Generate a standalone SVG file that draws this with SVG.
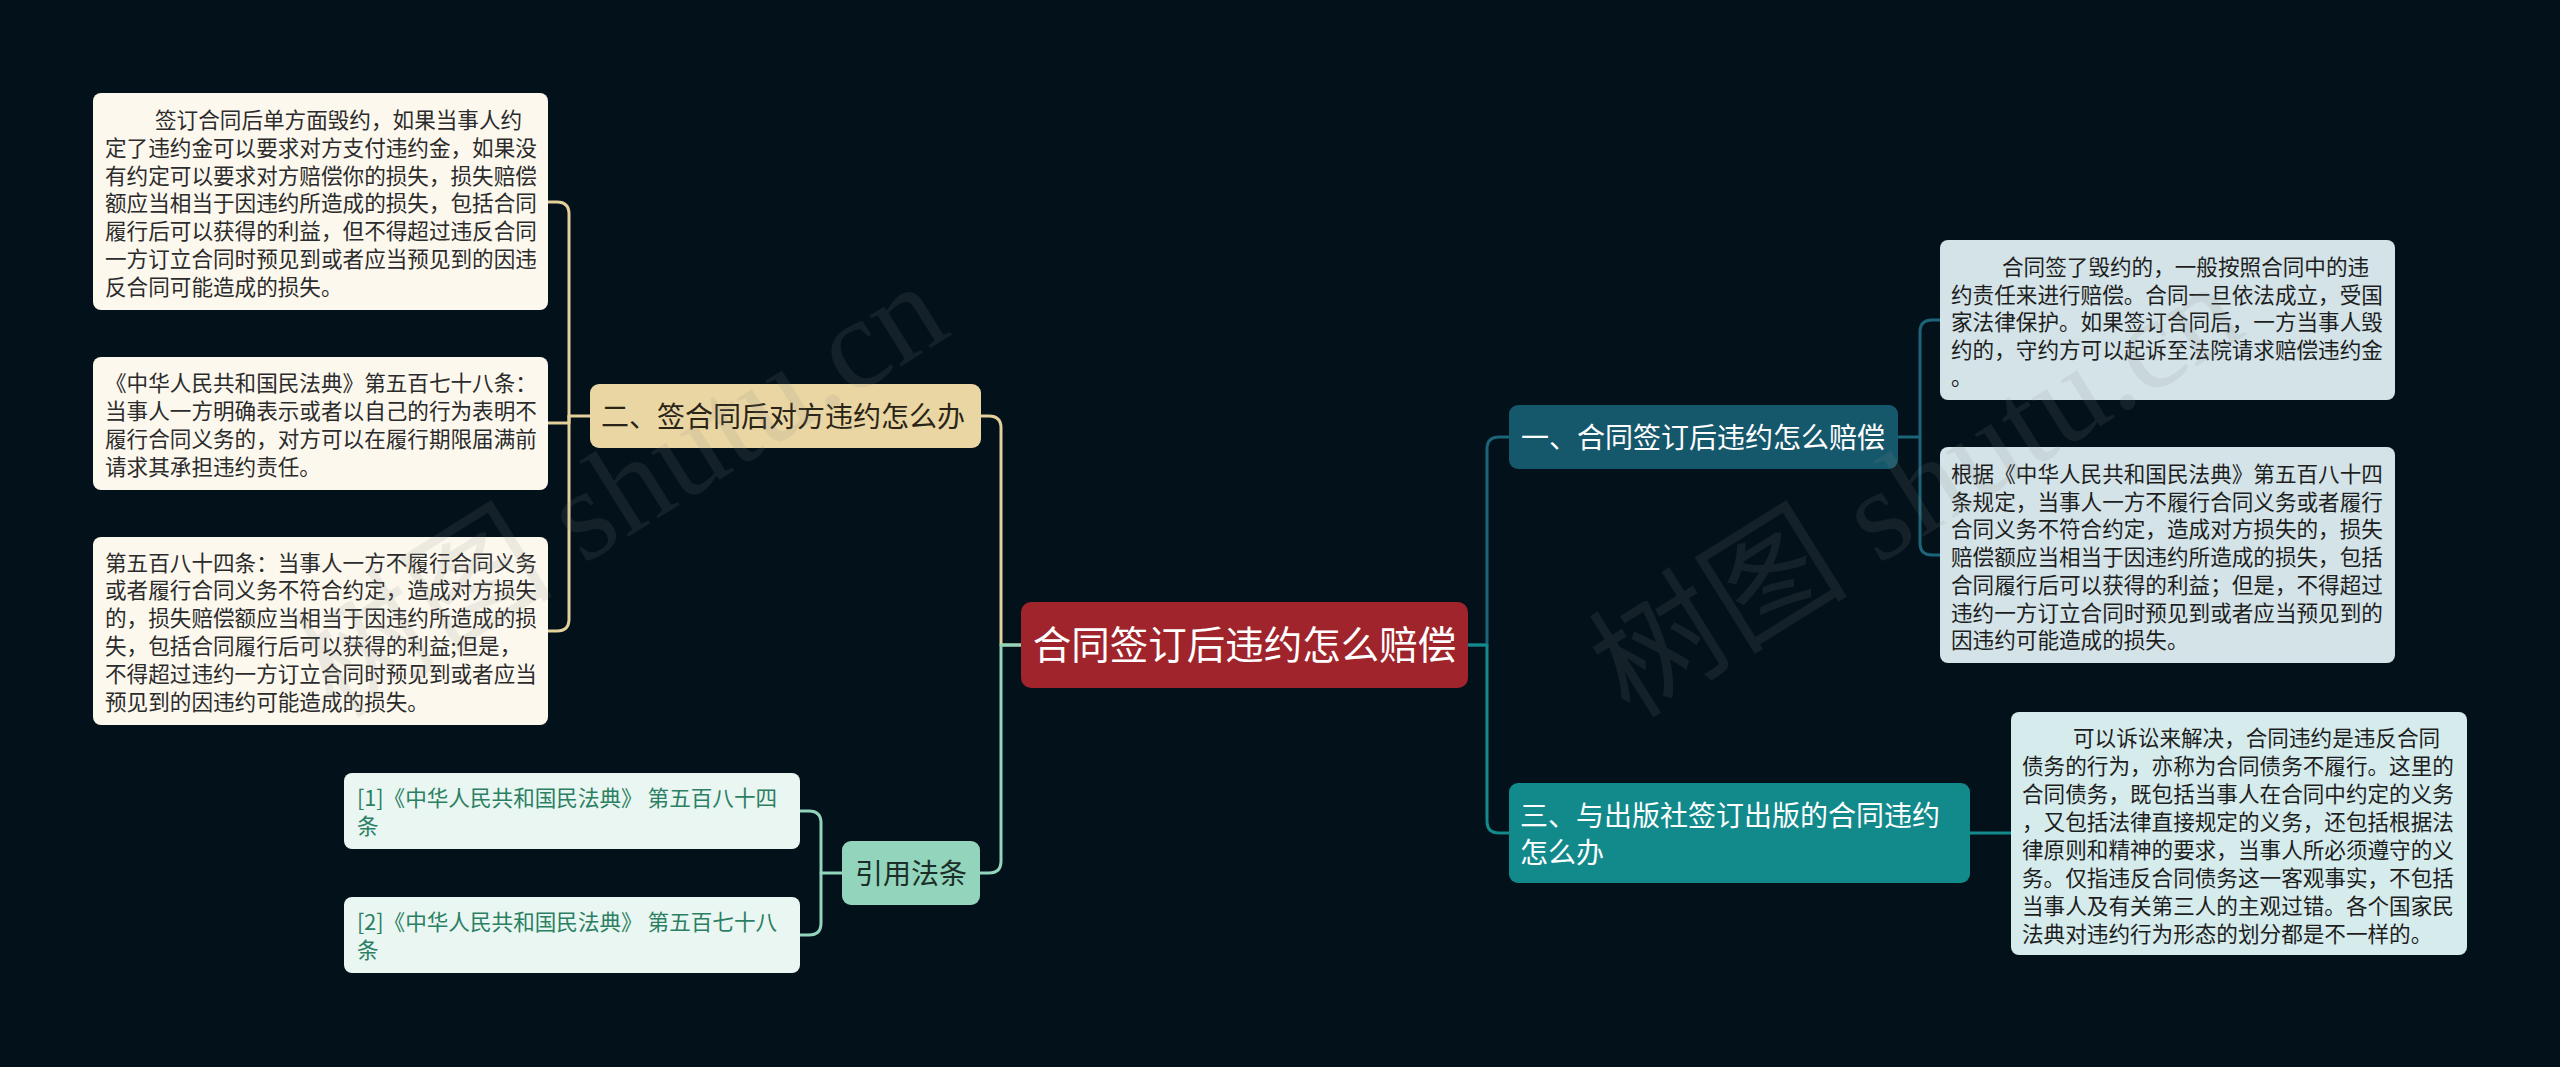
<svg xmlns="http://www.w3.org/2000/svg" width="2560" height="1067" viewBox="0 0 2560 1067">
<style>
text{font-family:"Noto Sans CJK SC","Noto Sans",sans-serif}
.s{font-size:21.6px}
.h{font-size:28px}
.leafL{fill:#fcf8ee}
.leafR{fill:#d3e3e7}
.leaf3{fill:#d5ebec}
.leafC{fill:#e9f6f1}
.dark{fill:#2b2b2b}
.cite{fill:#2b7f63}
.ln{fill:none;stroke-width:3;stroke-linecap:round;stroke-linejoin:round}
.gold{stroke:#e4d09a}
.mint{stroke:#93d4bd}
.teal1{stroke:#1c6578}
.teal3{stroke:#138b8d}
.wm{font-family:"Liberation Serif","Noto Sans CJK SC",serif;font-size:130px;fill:#8a8a8a;opacity:0.13}
</style>
<rect x="0" y="0" width="2560" height="1067" fill="#02111a"/>
<g id="connectors">
<path class="ln gold" d="M590 416 H569 V214 Q569 202 557 202 H548"/>
<path class="ln gold" d="M569 416 V423 H548"/>
<path class="ln gold" d="M569 416 V619 Q569 631 557 631 H548"/>
<path class="ln gold" d="M1021 645 H1001 V428 Q1001 416 989 416 H981"/>
<path class="ln mint" d="M1021 645 H1001 V861 Q1001 873 989 873 H980"/>
<path class="ln mint" d="M842 873 H821 V823 Q821 811 809 811 H800"/>
<path class="ln mint" d="M821 873 V923 Q821 935 809 935 H800"/>
<path class="ln teal1" d="M1468 645 H1487 V449 Q1487 437 1499 437 H1509"/>
<path class="ln teal3" d="M1468 645 H1487 V821 Q1487 833 1499 833 H1509"/>
<path class="ln teal1" d="M1898 437 H1920 V332 Q1920 320 1932 320 H1940"/>
<path class="ln teal1" d="M1920 437 V543 Q1920 555 1932 555 H1940"/>
<path class="ln teal3" d="M1970 833 H2011"/>
</g>
<g id="root">
<rect x="1021" y="602" width="447" height="86" rx="10" fill="#a0242b"/>
<text x="1244.5" y="659" text-anchor="middle" font-size="38.5" fill="#ffffff">合同签订后违约怎么赔偿</text>
</g>
<g id="n2">
<rect x="590" y="384" width="391" height="64" rx="9" fill="#e9d6a2"/>
<text class="h" x="601" y="426.5" fill="#2a2418">二、签合同后对方违约怎么办</text>
</g>
<g id="n2a">
<rect class="leafL" x="93" y="93" width="455" height="217" rx="8"/>
<text class="s dark"><tspan x="155" y="128">签订合同后单方面毁约，如果当事人约</tspan><tspan x="105" y="155.8">定了违约金可以要求对方支付违约金，如果没</tspan><tspan x="105" y="183.6">有约定可以要求对方赔偿你的损失，损失赔偿</tspan><tspan x="105" y="211.4">额应当相当于因违约所造成的损失，包括合同</tspan><tspan x="105" y="239.2">履行后可以获得的利益，但不得超过违反合同</tspan><tspan x="105" y="267">一方订立合同时预见到或者应当预见到的因违</tspan><tspan x="105" y="294.8">反合同可能造成的损失。</tspan></text>
</g>
<g id="n2b">
<rect class="leafL" x="93" y="357" width="455" height="133" rx="8"/>
<text class="s dark"><tspan x="105" y="391">《中华人民共和国民法典》第五百七十八条：</tspan><tspan x="105" y="419">当事人一方明确表示或者以自己的行为表明不</tspan><tspan x="105" y="447">履行合同义务的，对方可以在履行期限届满前</tspan><tspan x="105" y="475">请求其承担违约责任。</tspan></text>
</g>
<g id="n2c">
<rect class="leafL" x="93" y="537" width="455" height="188" rx="8"/>
<text class="s dark"><tspan x="105" y="570.5">第五百八十四条：当事人一方不履行合同义务</tspan><tspan x="105" y="598.4">或者履行合同义务不符合约定，造成对方损失</tspan><tspan x="105" y="626.3">的，损失赔偿额应当相当于因违约所造成的损</tspan><tspan x="105" y="654.2">失，包括合同履行后可以获得的利益;但是，</tspan><tspan x="105" y="682.1">不得超过违约一方订立合同时预见到或者应当</tspan><tspan x="105" y="710">预见到的因违约可能造成的损失。</tspan></text>
</g>
<g id="n4">
<rect x="842" y="841" width="138" height="64" rx="9" fill="#93d4bd"/>
<text class="h" x="911" y="883.5" text-anchor="middle" fill="#1b2e27">引用法条</text>
</g>
<g id="n4a">
<rect class="leafC" x="344" y="773" width="456" height="76" rx="8"/>
<text class="s cite"><tspan x="357" y="806">[1]《中华人民共和国民法典》 第五百八十四</tspan><tspan x="357" y="834">条</tspan></text>
</g>
<g id="n4b">
<rect class="leafC" x="344" y="897" width="456" height="76" rx="8"/>
<text class="s cite"><tspan x="357" y="930">[2]《中华人民共和国民法典》 第五百七十八</tspan><tspan x="357" y="958">条</tspan></text>
</g>
<g id="n1">
<rect x="1509" y="405" width="389" height="64" rx="9" fill="#16586b"/>
<text class="h" x="1521" y="447.5" fill="#ffffff">一、合同签订后违约怎么赔偿</text>
</g>
<g id="n1a">
<rect class="leafR" x="1940" y="240" width="455" height="160" rx="8"/>
<text class="s" fill="#1e1e1e"><tspan x="2002" y="275">合同签了毁约的，一般按照合同中的违</tspan><tspan x="1951" y="302.6">约责任来进行赔偿。合同一旦依法成立，受国</tspan><tspan x="1951" y="330.2">家法律保护。如果签订合同后，一方当事人毁</tspan><tspan x="1951" y="357.8">约的，守约方可以起诉至法院请求赔偿违约金</tspan><tspan x="1951" y="385.4">。</tspan></text>
</g>
<g id="n1b">
<rect class="leafR" x="1940" y="447" width="455" height="216" rx="8"/>
<text class="s" fill="#1e1e1e"><tspan x="1951" y="482">根据《中华人民共和国民法典》第五百八十四</tspan><tspan x="1951" y="509.7">条规定，当事人一方不履行合同义务或者履行</tspan><tspan x="1951" y="537.4">合同义务不符合约定，造成对方损失的，损失</tspan><tspan x="1951" y="565.1">赔偿额应当相当于因违约所造成的损失，包括</tspan><tspan x="1951" y="592.8">合同履行后可以获得的利益；但是，不得超过</tspan><tspan x="1951" y="620.5">违约一方订立合同时预见到或者应当预见到的</tspan><tspan x="1951" y="648.2">因违约可能造成的损失。</tspan></text>
</g>
<g id="n3">
<rect x="1509" y="783" width="461" height="100" rx="9" fill="#128a8c"/>
<text class="h" fill="#ffffff"><tspan x="1520" y="826">三、与出版社签订出版的合同违约</tspan><tspan x="1520" y="863">怎么办</tspan></text>
</g>
<g id="n3a">
<rect class="leaf3" x="2011" y="712" width="456" height="243" rx="8"/>
<text class="s" fill="#1e1e1e"><tspan x="2073" y="746">可以诉讼来解决，合同违约是违反合同</tspan><tspan x="2022" y="774">债务的行为，亦称为合同债务不履行。这里的</tspan><tspan x="2022" y="802">合同债务，既包括当事人在合同中约定的义务</tspan><tspan x="2022" y="830">，又包括法律直接规定的义务，还包括根据法</tspan><tspan x="2022" y="858">律原则和精神的要求，当事人所必须遵守的义</tspan><tspan x="2022" y="886">务。仅指违反合同债务这一客观事实，不包括</tspan><tspan x="2022" y="914">当事人及有关第三人的主观过错。各个国家民</tspan><tspan x="2022" y="942">法典对违约行为形态的划分都是不一样的。</tspan></text>
</g>
<g id="watermark">
<text class="wm" transform="translate(335,720) rotate(-32)">树图 shutu.cn</text>
<text class="wm" transform="translate(1630,720) rotate(-32)">树图 shutu.cn</text>
</g>
</svg>
